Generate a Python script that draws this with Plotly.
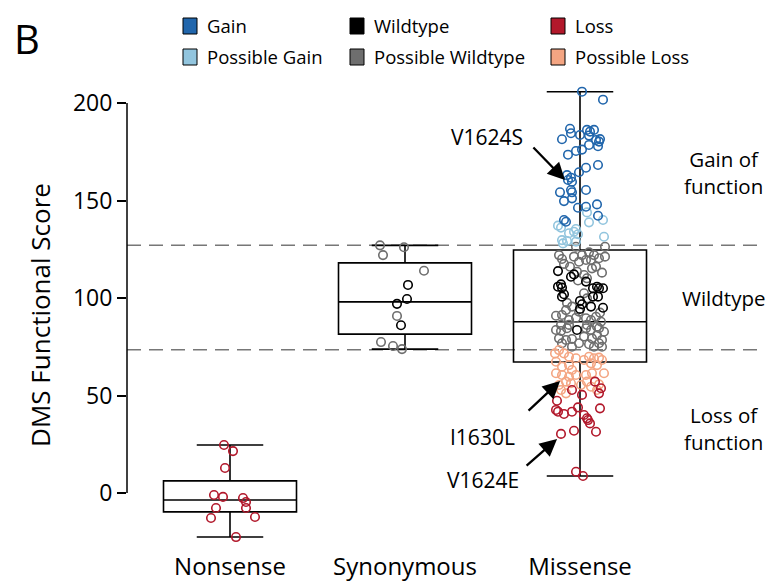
import plotly.graph_objects as go

# ---------------- data ----------------
categories = ["Nonsense", "Synonymous", "Missense"]
cat_pos = [0, 1, 2]

# box statistics
box_q1 = [-9.7, 81.5, 67.2]
box_median = [-3.6, 98.0, 87.8]
box_q3 = [6.2, 118.0, 124.6]
box_lower = [-22.6, 73.8, 8.7]
box_upper = [24.6, 127.0, 205.8]

gain_threshold = 127.0
loss_threshold = 73.5

# points: (jitter read in px, value)
nonsense_loss = [(-6, 24.6), (3, 21.5), (-5, 12.8), (-16, -1), (-7, -2), (13, -2.6), (16, -4.6),
                 (-14, -7.7), (16, -7.7), (-19, -12.8), (25, -12.3), (6, -22.6)]
syn_possible_wt = [(-25, 127), (-1, 126), (-22, 122), (19, 114), (-8, 90.8), (-24, 77.4),
                   (-12, 75.4), (-3, 73.8)]
syn_wt = [(3, 106.7), (2, 99.5), (-8, 97), (-4, 86)]

mis_gain = [(2, 205.8), (23, 201.7), (-10, 186.8), (-9, 184.5), (-18, 181.4), (0, 183.6), (7, 186.2),
            (10, 185.3), (14, 186.2), (9, 183.3), (16, 181), (20, 181.5), (19, 180.2), (18, 177.8),
            (9, 178.5), (2, 176.1), (-4, 175.4), (-12, 173.5), (6, 166.8), (18, 168.2), (-1, 164.5),
            (-13, 163), (-9, 161.7), (-12, 160.5), (-8, 159.6), (-20, 154.2), (-9, 155.4), (-8, 154.2),
            (6, 155.4), (-16, 149.7), (-8, 151.1), (-2, 146.3), (6, 146.8), (17, 148), (18, 142.2),
            (-16, 140), (-14, 139.1)]
mis_possible_gain = [(7, 143.9), (9, 138.8), (23, 140), (-22, 137.1), (-19, 136.1), (-11, 133.2),
                     (-4, 135.4), (-2, 132.7), (-6, 134), (-18, 129.7), (-17, 128), (24, 131.4),
                     (-4, 128.9), (-13, 129.2)]
mis_wt = [(-22, 113.8), (-9, 110.9), (-6, 112.1), (6, 108.4), (-19, 107), (-18, 105.3), (-22, 105.8),
          (-18, 100.7), (-16, 101.9), (13, 105), (17, 105.8), (19, 105), (23, 105), (18, 100.7),
          (13, 100.7), (0, 98.5), (2, 96.8), (11, 95.6), (23, 95), (0, 94.4), (-3, 83.6)]
mis_possible_wt = [(-4, 126.3), (25, 126.3), (-21, 122), (-18, 120), (-6, 121.2), (2, 122), (9, 123.4),
                   (14, 122), (25, 121.2), (19, 120.4), (6, 119.5), (11, 119.5), (-1, 118.6), (12, 115.2),
                   (16, 116.1), (4, 111.8), (7, 110.1), (-3, 113.5), (4, 102.4), (7, 99.8), (-8, 95.6),
                   (-14, 93.8), (-1, 93), (-18, 91.3), (-24, 90.9), (-4, 89.9), (6, 89.6), (16, 90.4),
                   (11, 88.7), (21, 87.8), (-11, 88.7), (-19, 86.2), (-11, 86.2), (7, 86.2), (17, 85.3),
                   (-24, 83.6), (-19, 83.1), (-13, 84.5), (6, 84.5), (11, 83.6), (19, 84.5), (24, 82.7),
                   (-21, 79.3), (-14, 78.5), (-8, 79), (4, 80.2), (12, 79.3), (17, 81), (22, 78.5),
                   (-18, 76.8), (-1, 76.8), (9, 76.3), (19, 76.8), (-8, 75), (14, 75), (22, 75),
                   (-16, 117.5), (-10, 116.0), (22, 113.0), (-2, 109.0), (-13, 97.5), (20, 92.5)]
mis_possible_loss = [(-21, 73.3), (-25, 71.6), (-16, 71.6), (-11, 69.9), (-4, 69.1), (4, 68.2), (9, 69.9),
                     (14, 69.1), (19, 69.4), (22, 68.2), (11, 66.5), (17, 65.6), (-24, 67.3), (-18, 64.8),
                     (-11, 65.6), (-8, 63.1), (-24, 61.4), (-18, 60.5), (-11, 59.6), (-4, 60.5), (6, 60.5),
                     (12, 61.4), (24, 61.4), (-14, 57.1), (-21, 55.4), (-9, 56.3), (7, 57.1), (1, 55.4),
                     (11, 54.5), (19, 55.7), (-19, 52.8), (-14, 51.1), (17, 52.8)]
mis_loss = [(-8, 52.8), (15, 57.1), (21, 53.7), (19, 51.1), (2, 50.3), (-23, 47.3), (20, 43.4),
            (-24, 42.6), (-22, 41.7), (-16, 40.5), (-8, 41.7), (-2, 43.9), (4, 40), (7, 38.3),
            (8, 37.4), (10, 35.7), (16, 31.4), (-6, 31.9), (-19, 30.3), (-4, 10.9), (3, 8.7)]

legend_labels = [["Gain", "Wildtype", "Loss"], ["Possible Gain", "Possible Wildtype", "Possible Loss"]]

# ---------------- styling ----------------
COL = {
    "Gain": "#2166ac", "Possible Gain": "#92c5de",
    "Wildtype": "#000000", "Possible Wildtype": "#6e6e6e",
    "Loss": "#b2182b", "Possible Loss": "#f4a582",
}
FONT = "Open Sans"
JIT = 175.0  # px per category unit

fig = go.Figure()

groups = [
    (0, nonsense_loss, "Loss"),
    (1, syn_possible_wt, "Possible Wildtype"),
    (1, syn_wt, "Wildtype"),
    (2, mis_possible_wt, "Possible Wildtype"),
    (2, mis_wt, "Wildtype"),
    (2, mis_possible_loss, "Possible Loss"),
    (2, mis_loss, "Loss"),
    (2, mis_possible_gain, "Possible Gain"),
    (2, mis_gain, "Gain"),
]
for ci, pts, cls in groups:
    fig.add_trace(go.Scatter(
        x=[cat_pos[ci] + dx / JIT for dx, _ in pts],
        y=[v for _, v in pts],
        mode="markers",
        marker=dict(symbol="circle-open", size=8.5, color=COL[cls], line=dict(width=1.6)),
        hoverinfo="y", showlegend=False,
    ))

fig.add_trace(go.Box(
    x=cat_pos, q1=box_q1, median=box_median, q3=box_q3,
    lowerfence=box_lower, upperfence=box_upper,
    boxpoints=False, width=0.76, whiskerwidth=0.5,
    fillcolor="rgba(0,0,0,0)", line=dict(color="black", width=1.6),
    showlegend=False, hoverinfo="skip",
))

W, H = 771, 584
L, R, T, B = 127, 765, 85, 545


def px(x):
    return (x - L) / (R - L)


def py(y):
    return (B - y) / (B - T)


shapes = []
for thr in (gain_threshold, loss_threshold):
    shapes.append(dict(type="line", xref="paper", x0=0, x1=1, yref="y", y0=thr, y1=thr,
                       line=dict(color="#777777", width=1.5, dash="14px,8px"), layer="below"))
# y spine only over tick range
shapes.append(dict(type="line", xref="paper", x0=0, x1=0, yref="y", y0=0, y1=200,
                   line=dict(color="black", width=1.5)))

annotations = []
# legend
col_sq = [190, 357, 558]
row_y = [26, 57]
for r, row in enumerate(legend_labels):
    for c, lab in enumerate(row):
        cx, cy = col_sq[c], row_y[r]
        shapes.append(dict(type="rect", xref="paper", yref="paper",
                           x0=px(cx - 7), x1=px(cx + 7), y0=py(cy + 8), y1=py(cy - 8),
                           fillcolor=COL[lab], line=dict(color="black", width=1)))
        annotations.append(dict(text=lab, xref="paper", yref="paper", x=px(cx + 15), y=py(cy),
                                xanchor="left", yanchor="middle", showarrow=False,
                                font=dict(family=FONT, size=18.5, color="black")))

annotations.append(dict(text="B", xref="paper", yref="paper", x=px(27), y=py(38),
                        xanchor="center", yanchor="middle", showarrow=False,
                        font=dict(family=FONT, size=40, color="black")))

for txt, yy in [("Gain of<br>function", 172), ("Wildtype", 298), ("Loss of<br>function", 428)]:
    annotations.append(dict(text=txt, xref="paper", yref="paper", x=px(723), y=py(yy),
                            xanchor="center", yanchor="middle", showarrow=False,
                            font=dict(family=FONT, size=20.5, color="black")))

# variant labels and arrows
variants = [("V1624S", 160.5, 1.914, (487, 137), (-33, -34)),
            ("I1630L", 57.4, 1.886, (482, 437), (-33, 31)),
            ("V1624E", 27.7, 1.869, (483, 480), (-32, 28))]
for name, vy, vx, (tx, ty), (ax, ay) in variants:
    annotations.append(dict(text=name, xref="paper", yref="paper", x=px(tx), y=py(ty),
                            xanchor="center", yanchor="middle", showarrow=False,
                            font=dict(family=FONT, size=21, color="black")))
    annotations.append(dict(text="", x=vx, y=vy, xref="x", yref="y", ax=ax, ay=ay,
                            showarrow=True, arrowhead=2, arrowsize=1.5, arrowwidth=2.3,
                            arrowcolor="black"))

fig.update_layout(
    width=W, height=H,
    margin=dict(l=L, r=W - R, t=T, b=H - B, pad=0, autoexpand=False),
    plot_bgcolor="white", paper_bgcolor="white",
    shapes=shapes, annotations=annotations,
    font=dict(family=FONT, color="black"),
    xaxis=dict(range=[(L - 230) / JIT, (R - 230) / JIT], tickvals=cat_pos, ticktext=categories,
               showgrid=False, zeroline=False, showline=False, ticks="", automargin=False,
               tickfont=dict(size=24, family=FONT, color="black"), ticklabelstandoff=5),
    yaxis=dict(range=[(493 - B) / 1.95, (493 - T) / 1.95], tickvals=[0, 50, 100, 150, 200],
               showgrid=False, zeroline=False, showline=False, ticks="outside", ticklen=9,
               tickwidth=1.5, tickcolor="black", automargin=False,
               tickfont=dict(size=23, family=FONT, color="black"),
               title=dict(text="DMS Functional Score", font=dict(size=26, family=FONT, color="black"),
                          standoff=14)),
)

# remove the default 8px page margin so the figure fills the window exactly
fig.write_html("out.html", config={"displayModeBar": False},
               post_script="document.body.style.margin='0';document.body.style.overflow='hidden';")
